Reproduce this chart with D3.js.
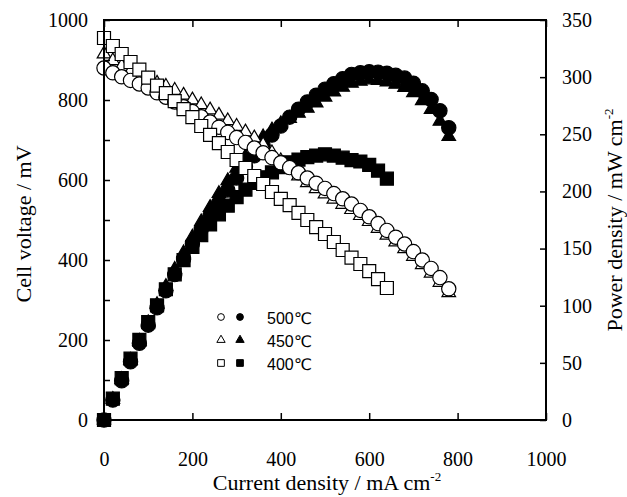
<!DOCTYPE html>
<html>
<head>
<meta charset="utf-8">
<script src="https://cdn.jsdelivr.net/npm/d3@7"></script>
<style>
  html, body { margin: 0; padding: 0; background: #fff; }
  svg { display: block; }
  .serif { font-family: "Liberation Serif", "Times New Roman", Times, Tinos, "Nimbus Roman", "Nimbus Roman No9 L", FreeSerif, "DejaVu Serif", "Noto Serif", serif; }
  .sans { font-family: "Liberation Sans", Arial, "DejaVu Sans", sans-serif; }
</style>
</head>
<body>
<svg id="chart" width="627" height="497"></svg>
<script>
const width = 627;
const height = 497;

// current density steps (mA cm-2)
const current500 = [0, 20, 40, 60, 80, 100, 120, 140, 160, 180, 200, 220, 240, 260, 280, 300, 320, 340, 360, 380,
  400, 420, 440, 460, 480, 500, 520, 540, 560, 580, 600, 620, 640, 660, 680, 700, 720, 740, 760, 780];
const current450 = current500;
const current400 = [0, 20, 40, 60, 80, 100, 120, 140, 160, 180, 200, 220, 240, 260, 280, 300, 320, 340, 360, 380,
  400, 420, 440, 460, 480, 500, 520, 540, 560, 580, 600, 620, 640];

// cell voltage (mV)
const voltage500 = [880, 868, 858, 849, 840, 830, 818, 807, 795, 783, 771, 758, 745, 732, 719, 706, 694, 680, 668, 656,
  643, 631, 618, 605, 592, 579, 566, 553, 540, 524, 508, 491, 474, 457, 440, 421, 400, 379, 356, 328];
const voltage450 = [915, 898, 884, 872, 861, 851, 842, 834, 824, 812, 800, 788, 775, 762, 748, 734, 720, 705, 688, 668,
  648, 628, 610, 593, 578, 565, 552, 539, 526, 511, 496, 479, 462, 445, 428, 409, 388, 367, 344, 318];
const voltage400 = [955, 935, 915, 895, 876, 856, 836, 817, 797, 777, 757, 735, 713, 692, 670, 650, 630, 610, 590, 570,
  553, 537, 518, 500, 482, 465, 445, 425, 406, 390, 372, 352, 330];

// power density (mW cm-2)
const power500 = [0, 17.4, 34.3, 50.9, 67.2, 83.0, 98.2, 113.0, 127.2, 140.9, 154.2, 166.8, 178.8, 190.3, 201.3, 211.8,
  222.1, 231.2, 240.5, 249.3, 257.2, 265.0, 271.9, 278.3, 284.2, 289.5, 294.3, 298.6, 302.4, 303.9, 304.8, 304.4,
  303.4, 301.6, 299.2, 294.7, 288.0, 280.5, 270.6, 255.8];
const power450 = [0, 18.0, 35.4, 52.3, 68.9, 85.1, 101.0, 116.8, 131.8, 146.2, 160.0, 173.4, 186.0, 198.1, 209.4, 220.2,
  230.4, 239.7, 247.7, 253.8, 259.2, 263.8, 268.4, 272.8, 277.4, 282.5, 287.0, 291.1, 294.6, 296.4, 297.6, 297.0,
  295.7, 293.7, 291.0, 286.3, 279.4, 271.6, 261.4, 248.0];
const power400 = [0, 18.7, 36.6, 53.7, 70.1, 85.6, 100.3, 114.4, 127.5, 139.9, 151.4, 161.7, 171.1, 179.9, 187.6, 195.0,
  201.6, 207.4, 212.4, 216.6, 221.2, 225.5, 227.9, 230.0, 231.4, 232.5, 231.4, 229.5, 227.4, 226.2, 223.2, 218.2, 211.2];

const temps = ["500\u2103", "450\u2103", "400\u2103"];
const xTicks = [0, 200, 400, 600, 800, 1000];
const vTicks = [0, 200, 400, 600, 800, 1000];
const pTicks = [0, 50, 100, 150, 200, 250, 300, 350];

const svg = d3.select("#chart");

const plotLeft = 104, plotRight = 546, plotTop = 20, plotBottom = 420;
const x = d3.scaleLinear().domain([0, 1000]).range([plotLeft, plotRight]);
const yV = d3.scaleLinear().domain([0, 1000]).range([plotBottom, plotTop]);
const yP = d3.scaleLinear().domain([0, 350]).range([plotBottom, plotTop]);

function zip(xs, ys) {
  return xs.map((d, i) => [d, ys[i]]);
}

const shapes = {
  circle: d3.symbolCircle,
  triangle: d3.symbolTriangle,
  square: d3.symbolSquare
};
const bigSize = { circle: 160, triangle: 80, square: 169 };
const smallSize = { circle: 36, triangle: 30, square: 45 };

function drawSeries(data, yScale, shape, filled) {
  const sym = d3.symbol().type(shapes[shape]).size(bigSize[shape]);
  svg.append("g")
    .selectAll("path")
    .data(data)
    .join("path")
    .attr("transform", d => `translate(${x(d[0])},${yScale(d[1])})`)
    .attr("d", sym)
    .attr("fill", filled ? "#000" : "#fff")
    .attr("stroke", "#000")
    .attr("stroke-width", 1.2);
}

// filled power curves underneath, open voltage markers on top
drawSeries(zip(current500, power500), yP, "circle", true);
drawSeries(zip(current450, power450), yP, "triangle", true);
drawSeries(zip(current400, power400), yP, "square", true);
drawSeries(zip(current450, voltage450), yV, "triangle", false);
drawSeries(zip(current500, voltage500), yV, "circle", false);
drawSeries(zip(current400, voltage400), yV, "square", false);

// frame
svg.append("rect")
  .attr("x", plotLeft).attr("y", plotTop)
  .attr("width", plotRight - plotLeft).attr("height", plotBottom - plotTop)
  .attr("fill", "none").attr("stroke", "#000").attr("stroke-width", 2);

function styleAxis(g) {
  g.attr("font-family", null).attr("font-size", null);
  g.select(".domain").remove();
  g.selectAll("line").attr("stroke-width", 1.5);
  g.selectAll("text").attr("class", "serif").style("font-size", "20px").attr("fill", "#000");
}

// bottom axis with inward ticks
svg.append("g")
  .attr("transform", `translate(0,${plotBottom})`)
  .call(d3.axisBottom(x).tickValues(xTicks).tickFormat(d3.format("d"))
    .tickSizeInner(-7).tickSizeOuter(0).tickPadding(32))
  .call(styleAxis);

// top axis ticks only
svg.append("g")
  .attr("transform", `translate(0,${plotTop})`)
  .call(d3.axisTop(x).tickValues(xTicks).tickSizeInner(-7).tickSizeOuter(0).tickFormat(""))
  .call(styleAxis);

// left axis: minor ticks every 100, labels every 200
svg.append("g")
  .attr("transform", `translate(${plotLeft},0)`)
  .call(d3.axisLeft(yV).ticks(10).tickSizeInner(-6).tickSizeOuter(0)
    .tickFormat(d => vTicks.includes(d) ? d : "").tickPadding(16))
  .call(styleAxis);

// right axis
svg.append("g")
  .attr("transform", `translate(${plotRight},0)`)
  .call(d3.axisRight(yP).tickValues(pTicks).tickSizeInner(-6).tickSizeOuter(0).tickPadding(16))
  .call(styleAxis);

// axis titles
const xTitle = svg.append("text")
  .attr("class", "serif")
  .attr("x", (plotLeft + plotRight) / 2 + 2).attr("y", 490)
  .attr("text-anchor", "middle")
  .style("font-size", "22px")
  .text("Current density / mA cm");
xTitle.append("tspan").attr("dy", -9).style("font-size", "13px").text("-2");

svg.append("text")
  .attr("class", "serif")
  .attr("transform", `translate(31,${(plotTop + plotBottom) / 2 + 4}) rotate(-90)`)
  .attr("text-anchor", "middle")
  .style("font-size", "22px")
  .text("Cell voltage / mV");

const pTitle = svg.append("text")
  .attr("class", "serif")
  .attr("transform", `translate(622,${(plotTop + plotBottom) / 2}) rotate(-90)`)
  .attr("text-anchor", "middle")
  .style("font-size", "22px")
  .text("Power density / mW cm");
pTitle.append("tspan").attr("dy", -9).style("font-size", "13px").text("-2");

// legend
const legendShapes = ["circle", "triangle", "square"];
const legend = svg.append("g");
temps.forEach((t, i) => {
  const yy = 317 + i * 23;
  const sym = d3.symbol().type(shapes[legendShapes[i]]).size(smallSize[legendShapes[i]]);
  legend.append("path")
    .attr("transform", `translate(221,${yy})`)
    .attr("d", sym)
    .attr("fill", "#fff").attr("stroke", "#000").attr("stroke-width", 1);
  legend.append("path")
    .attr("transform", `translate(240,${yy})`)
    .attr("d", sym)
    .attr("fill", "#000").attr("stroke", "#000").attr("stroke-width", 1);
  legend.append("text")
    .attr("class", "sans")
    .attr("x", 267).attr("y", yy + 7)
    .style("font-size", "16px")
    .text(t);
});
</script>
</body>
</html>
